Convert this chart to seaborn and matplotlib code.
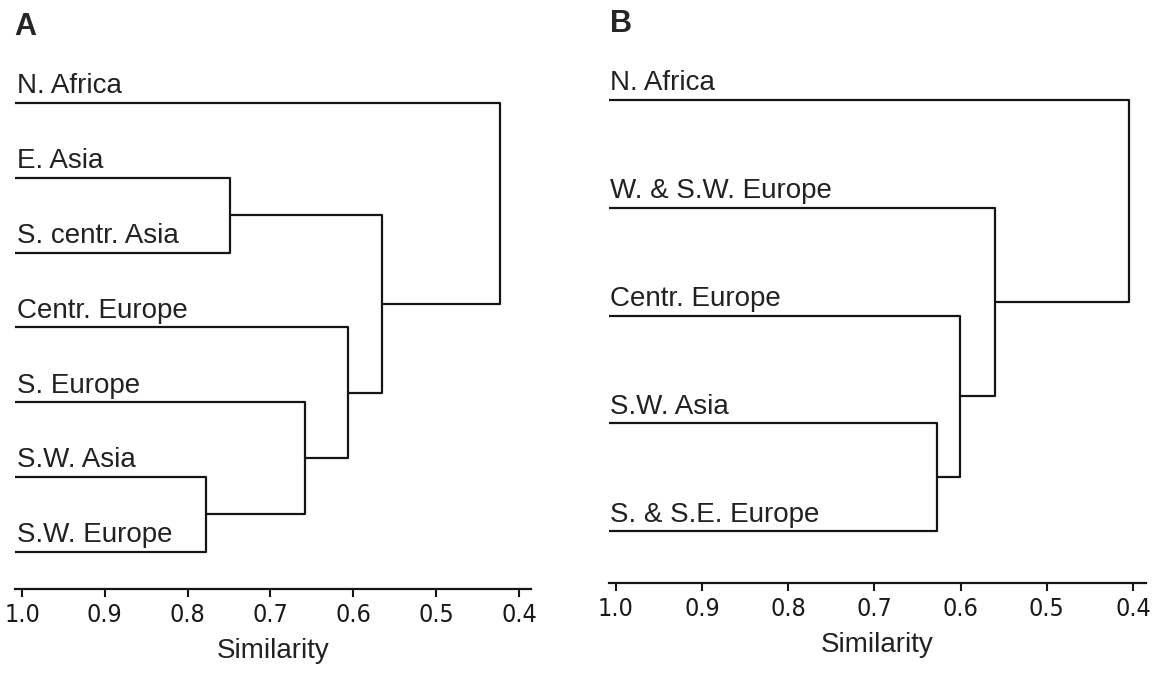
import matplotlib
matplotlib.use("Agg")
import matplotlib.pyplot as plt
from matplotlib import font_manager
import pandas as pd
import seaborn as sns

# Panel A: leaves (top to bottom) and merges (child, child, similarity)
leaves_a = ["N. Africa", "E. Asia", "S. centr. Asia", "Centr. Europe",
            "S. Europe", "S.W. Asia", "S.W. Europe"]
merges_a = [(5, 6, 0.778),
            (4, 7, 0.658),
            (3, 8, 0.607),
            (1, 2, 0.749),
            (10, 9, 0.565),
            (0, 11, 0.423)]

# Panel B
leaves_b = ["N. Africa", "W. & S.W. Europe", "Centr. Europe",
            "S.W. Asia", "S. & S.E. Europe"]
merges_b = [(3, 4, 0.627),
            (2, 5, 0.601),
            (1, 6, 0.560),
            (0, 7, 0.405)]

sim_ticks = [1.0, 0.9, 0.8, 0.7, 0.6, 0.5, 0.4]
tick_labels = ["1.0", "0.9", "0.8", "0.7", "0.6", "0.5", "0.4"]

LEAF_X = 1.008


def dendro_segments(leaves, merges):
    # node positions: leaves at similarity LEAF_X, y = index
    xs = [LEAF_X] * len(leaves)
    ys = list(range(len(leaves)))
    rows = []
    for k, (i, j, s) in enumerate(merges):
        pts = [(xs[i], ys[i]), (s, ys[i]), (s, ys[j]), (xs[j], ys[j])]
        for order, (px, py) in enumerate(pts):
            rows.append({"seg": k, "order": order, "sim": px, "pos": py})
        xs.append(s)
        ys.append((ys[i] + ys[j]) / 2)
    return pd.DataFrame(rows)


sns.set_style("white")
plt.rcParams["font.family"] = ["Liberation Sans", "DejaVu Sans"]

# condensed face for the tick numbers if one is around
installed = {f.name for f in font_manager.fontManager.ttflist}
if "Liberation Sans Narrow" in installed:
    tick_font = font_manager.FontProperties(family="Liberation Sans Narrow", size=20, weight="bold")
elif "DejaVu Sans Condensed" in installed:
    tick_font = font_manager.FontProperties(family="DejaVu Sans Condensed", size=18)
else:
    tick_font = font_manager.FontProperties(family="DejaVu Sans", stretch="condensed", size=18)

fig = plt.figure(figsize=(11.56, 6.74), dpi=100)
ax_a = fig.add_axes([0.0133, 0.126, 0.4464, 0.785])
ax_b = fig.add_axes([0.5268, 0.135, 0.4645, 0.776])

panels = [(ax_a, leaves_a, merges_a, (6.497, -0.575)),
          (ax_b, leaves_b, merges_b, (4.48, -0.371))]

for ax, leaves, merges, ylim in panels:
    seg = dendro_segments(leaves, merges)
    sns.lineplot(data=seg, x="sim", y="pos", units="seg", estimator=None,
                 sort=False, color="#151515", linewidth=1.6, ax=ax)
    for i, name in enumerate(leaves):
        ax.annotate(name, xy=(LEAF_X, i), xytext=(1, 7), textcoords="offset points",
                    ha="left", va="baseline", fontsize=20, color="#222222")
    ax.set_xlim(LEAF_X, 0.385)
    ax.set_ylim(*ylim)
    ax.set_yticks([])
    ax.set_ylabel("")
    ax.set_xticks(sim_ticks)
    ax.set_xticklabels(tick_labels)
    for lab in ax.get_xticklabels():
        lab.set_fontproperties(tick_font)
        lab.set_color("#1a1a1a")
    ax.tick_params(axis="x", direction="out", length=6, width=1.5, pad=4,
                   bottom=True, color="#151515")
    ax.set_xlabel("Similarity", fontsize=20, labelpad=8, color="#222222")
    for side in ["top", "right", "left"]:
        ax.spines[side].set_visible(False)
    ax.spines["bottom"].set_linewidth(1.6)
    ax.spines["bottom"].set_color("#151515")

fig.text(14 / 1156, 1 - 35 / 674, "A", fontsize=22, fontweight="bold", va="baseline")
fig.text(610 / 1156, 1 - 32 / 674, "B", fontsize=22, fontweight="bold", va="baseline")

fig.savefig("out.png", dpi=100, facecolor="white")
